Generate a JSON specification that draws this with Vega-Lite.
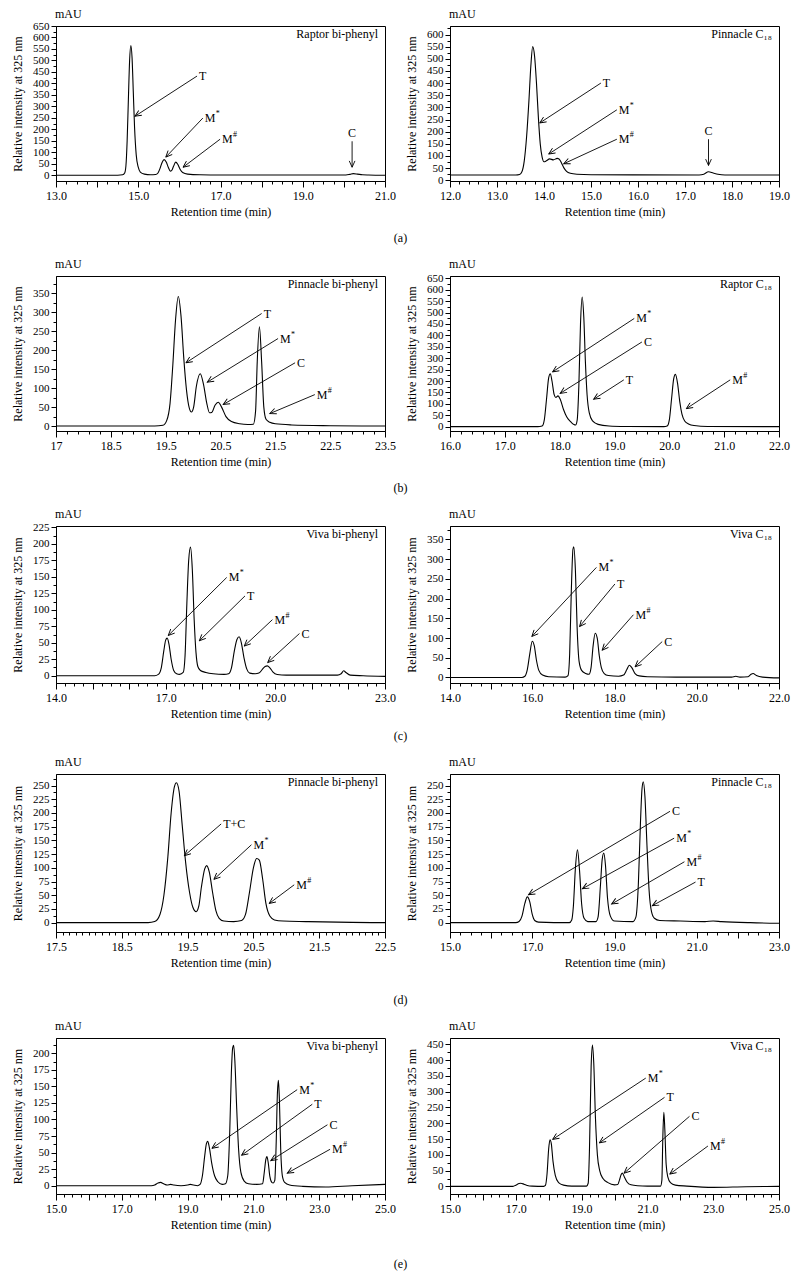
{
"$schema": "https://vega.github.io/schema/vega-lite/v6.json",
"padding": {"left": 11, "top": 7, "right": 3, "bottom": 5},
"spacing": 13,
"config": {
 "font": "Liberation Serif",
 "view": {"stroke": "black", "strokeWidth": 1},
 "axis": {"domainColor": "black", "tickColor": "black", "labelColor": "black", "titleColor": "black", "labelFontSize": 12, "titleFontSize": 12, "titleFontWeight": "normal", "grid": false, "labelFlush": false, "labelOverlap": false, "tickWidth": 1, "domainWidth": 1, "labelFont": "Liberation Serif", "titleFont": "Liberation Serif"},
 "axisX": {"labelPadding": 3, "titlePadding": 5},
 "axisY": {"labelPadding": 2, "titlePadding": 8, "labelFontSize": 11, "format": "d"},
 "title": {"fontSize": 12, "fontWeight": "normal", "color": "black", "font": "Liberation Serif"},
 "text": {"font": "Liberation Serif", "fontSize": 12, "color": "black"}
},
"datasets": {
 "unit": [{"u": "mAU"}],
 "tA1": [{"t":13,"v":0},{"t":14.5,"v":0},{"t":14.62,"v":2},{"t":14.67,"v":10},{"t":14.7,"v":40},{"t":14.73,"v":150},{"t":14.76,"v":330},{"t":14.79,"v":500},{"t":14.82,"v":565},{"t":14.85,"v":510},{"t":14.88,"v":360},{"t":14.91,"v":210},{"t":14.95,"v":90},{"t":15,"v":35},{"t":15.05,"v":14},{"t":15.15,"v":5},{"t":15.3,"v":2},{"t":15.42,"v":3},{"t":15.48,"v":10},{"t":15.53,"v":30},{"t":15.58,"v":56},{"t":15.63,"v":68},{"t":15.68,"v":58},{"t":15.73,"v":35},{"t":15.78,"v":18},{"t":15.81,"v":20},{"t":15.86,"v":40},{"t":15.91,"v":57},{"t":15.96,"v":48},{"t":16.02,"v":25},{"t":16.08,"v":12},{"t":16.2,"v":5},{"t":16.5,"v":2},{"t":17,"v":1},{"t":20.05,"v":1},{"t":20.15,"v":4},{"t":20.23,"v":7},{"t":20.33,"v":5},{"t":20.45,"v":2},{"t":20.6,"v":1},{"t":21,"v":0}],
 "aA1": [{"x1":16.43,"y1":432,"x2":14.92,"y2":257,"lab":"T","sup":""},{"x1":16.57,"y1":249,"x2":15.67,"y2":79,"lab":"M","sup":"*"},{"x1":16.99,"y1":157,"x2":16.09,"y2":35,"lab":"M","sup":"#"},{"x1":20.2,"y1":148,"x2":20.2,"y2":35,"lab":"C","sup":""}],
 "tA2": [{"t":12,"v":22},{"t":13.4,"v":22},{"t":13.48,"v":24},{"t":13.53,"v":35},{"t":13.58,"v":80},{"t":13.63,"v":180},{"t":13.68,"v":330},{"t":13.72,"v":470},{"t":13.76,"v":550},{"t":13.8,"v":510},{"t":13.84,"v":400},{"t":13.88,"v":260},{"t":13.92,"v":150},{"t":13.96,"v":95},{"t":14,"v":76},{"t":14.05,"v":80},{"t":14.12,"v":88},{"t":14.2,"v":84},{"t":14.28,"v":90},{"t":14.32,"v":88},{"t":14.37,"v":72},{"t":14.42,"v":52},{"t":14.48,"v":37},{"t":14.56,"v":29},{"t":14.7,"v":25},{"t":15,"v":23},{"t":17.3,"v":22},{"t":17.4,"v":25},{"t":17.5,"v":35},{"t":17.6,"v":30},{"t":17.7,"v":25},{"t":17.85,"v":22},{"t":19,"v":22}],
 "aA2": [{"x1":15.21,"y1":400,"x2":13.91,"y2":236,"lab":"T","sup":""},{"x1":15.55,"y1":290,"x2":14.1,"y2":108,"lab":"M","sup":"*"},{"x1":15.55,"y1":169,"x2":14.42,"y2":68,"lab":"M","sup":"#"},{"x1":17.5,"y1":169,"x2":17.5,"y2":61,"lab":"C","sup":""}],
 "tB1": [{"t":17.5,"v":0},{"t":19.3,"v":0},{"t":19.45,"v":2},{"t":19.52,"v":15},{"t":19.58,"v":60},{"t":19.63,"v":160},{"t":19.68,"v":280},{"t":19.73,"v":342},{"t":19.78,"v":290},{"t":19.83,"v":180},{"t":19.88,"v":95},{"t":19.93,"v":48},{"t":19.97,"v":37},{"t":20.01,"v":50},{"t":20.06,"v":105},{"t":20.13,"v":138},{"t":20.19,"v":110},{"t":20.25,"v":60},{"t":20.3,"v":35},{"t":20.34,"v":36},{"t":20.4,"v":55},{"t":20.46,"v":63},{"t":20.52,"v":50},{"t":20.6,"v":25},{"t":20.7,"v":12},{"t":20.85,"v":6},{"t":21,"v":4},{"t":21.1,"v":5},{"t":21.14,"v":40},{"t":21.17,"v":170},{"t":21.21,"v":262},{"t":21.25,"v":170},{"t":21.29,"v":50},{"t":21.33,"v":18},{"t":21.4,"v":10},{"t":21.5,"v":6},{"t":21.8,"v":3},{"t":22.5,"v":1},{"t":23.5,"v":0}],
 "aB1": [{"x1":21.25,"y1":297,"x2":19.87,"y2":167,"lab":"T","sup":""},{"x1":21.55,"y1":231,"x2":20.26,"y2":116,"lab":"M","sup":"*"},{"x1":21.86,"y1":167,"x2":20.55,"y2":57,"lab":"C","sup":""},{"x1":22.22,"y1":83,"x2":21.4,"y2":33,"lab":"M","sup":"#"}],
 "tB2": [{"t":16,"v":0},{"t":17.6,"v":0},{"t":17.68,"v":3},{"t":17.72,"v":30},{"t":17.76,"v":120},{"t":17.8,"v":215},{"t":17.83,"v":232},{"t":17.86,"v":200},{"t":17.9,"v":140},{"t":17.93,"v":128},{"t":17.97,"v":135},{"t":18.01,"v":120},{"t":18.07,"v":75},{"t":18.13,"v":42},{"t":18.2,"v":22},{"t":18.26,"v":9},{"t":18.29,"v":7},{"t":18.32,"v":30},{"t":18.35,"v":180},{"t":18.38,"v":450},{"t":18.41,"v":568},{"t":18.44,"v":480},{"t":18.47,"v":280},{"t":18.5,"v":140},{"t":18.54,"v":60},{"t":18.6,"v":25},{"t":18.7,"v":10},{"t":18.9,"v":3},{"t":19.2,"v":1},{"t":19.9,"v":0},{"t":19.96,"v":3},{"t":20,"v":30},{"t":20.04,"v":120},{"t":20.08,"v":210},{"t":20.11,"v":229},{"t":20.15,"v":190},{"t":20.19,"v":110},{"t":20.23,"v":55},{"t":20.28,"v":25},{"t":20.35,"v":12},{"t":20.45,"v":5},{"t":20.7,"v":1},{"t":22,"v":0}],
 "aB2": [{"x1":19.36,"y1":474,"x2":17.87,"y2":240,"lab":"M","sup":"*"},{"x1":19.5,"y1":371,"x2":18.01,"y2":146,"lab":"C","sup":""},{"x1":19.17,"y1":205,"x2":18.62,"y2":120,"lab":"T","sup":""},{"x1":21.11,"y1":205,"x2":20.31,"y2":79,"lab":"M","sup":"#"}],
 "tC1": [{"t":14,"v":0},{"t":16.7,"v":0},{"t":16.8,"v":2},{"t":16.88,"v":12},{"t":16.95,"v":38},{"t":17,"v":54},{"t":17.04,"v":57},{"t":17.09,"v":48},{"t":17.15,"v":25},{"t":17.22,"v":8},{"t":17.3,"v":3},{"t":17.38,"v":2},{"t":17.48,"v":5},{"t":17.53,"v":30},{"t":17.58,"v":110},{"t":17.63,"v":175},{"t":17.68,"v":195},{"t":17.73,"v":160},{"t":17.78,"v":85},{"t":17.83,"v":35},{"t":17.88,"v":14},{"t":17.95,"v":8},{"t":18.1,"v":5},{"t":18.3,"v":3},{"t":18.6,"v":2},{"t":18.72,"v":3},{"t":18.8,"v":12},{"t":18.88,"v":38},{"t":18.95,"v":55},{"t":19.01,"v":59},{"t":19.07,"v":50},{"t":19.14,"v":28},{"t":19.22,"v":10},{"t":19.3,"v":4},{"t":19.45,"v":3},{"t":19.55,"v":4},{"t":19.65,"v":10},{"t":19.72,"v":14},{"t":19.78,"v":15},{"t":19.85,"v":12},{"t":19.93,"v":6},{"t":20.05,"v":2},{"t":20.3,"v":1},{"t":21.7,"v":1},{"t":21.8,"v":3},{"t":21.87,"v":7.5},{"t":21.93,"v":5},{"t":22.05,"v":1},{"t":22.4,"v":0},{"t":23,"v":-1}],
 "aC1": [{"x1":18.67,"y1":149,"x2":17.07,"y2":61,"lab":"M","sup":"*"},{"x1":19.17,"y1":121,"x2":17.92,"y2":53,"lab":"T","sup":""},{"x1":19.92,"y1":85,"x2":19.15,"y2":45,"lab":"M","sup":"#"},{"x1":20.66,"y1":64,"x2":19.79,"y2":20,"lab":"C","sup":""}],
 "tC2": [{"t":14,"v":0},{"t":15.75,"v":0},{"t":15.82,"v":3},{"t":15.88,"v":20},{"t":15.94,"v":60},{"t":16,"v":92},{"t":16.05,"v":80},{"t":16.1,"v":45},{"t":16.16,"v":18},{"t":16.25,"v":6},{"t":16.4,"v":2},{"t":16.8,"v":1},{"t":16.87,"v":5},{"t":16.91,"v":60},{"t":16.95,"v":220},{"t":16.99,"v":325},{"t":17.01,"v":331},{"t":17.05,"v":270},{"t":17.09,"v":130},{"t":17.14,"v":40},{"t":17.2,"v":18},{"t":17.3,"v":10},{"t":17.38,"v":8},{"t":17.43,"v":25},{"t":17.48,"v":80},{"t":17.53,"v":112},{"t":17.58,"v":100},{"t":17.63,"v":55},{"t":17.68,"v":25},{"t":17.75,"v":10},{"t":17.85,"v":5},{"t":18.1,"v":3},{"t":18.22,"v":6},{"t":18.3,"v":20},{"t":18.36,"v":31},{"t":18.42,"v":25},{"t":18.5,"v":10},{"t":18.6,"v":4},{"t":18.8,"v":2},{"t":19.5,"v":1},{"t":20.85,"v":1},{"t":20.95,"v":3},{"t":21.05,"v":1},{"t":21.25,"v":2},{"t":21.32,"v":8},{"t":21.37,"v":10},{"t":21.45,"v":5},{"t":21.6,"v":1},{"t":22,"v":-1}],
 "aC2": [{"x1":17.56,"y1":279,"x2":15.99,"y2":104,"lab":"M","sup":"*"},{"x1":18.01,"y1":237,"x2":17.15,"y2":129,"lab":"T","sup":""},{"x1":18.46,"y1":159,"x2":17.7,"y2":69,"lab":"M","sup":"#"},{"x1":19.16,"y1":91,"x2":18.5,"y2":27,"lab":"C","sup":""}],
 "tD1": [{"t":17.5,"v":0},{"t":18.9,"v":0},{"t":19,"v":2},{"t":19.08,"v":15},{"t":19.14,"v":50},{"t":19.2,"v":120},{"t":19.25,"v":200},{"t":19.3,"v":248},{"t":19.33,"v":255},{"t":19.37,"v":240},{"t":19.42,"v":175},{"t":19.47,"v":110},{"t":19.53,"v":55},{"t":19.58,"v":28},{"t":19.63,"v":20},{"t":19.67,"v":30},{"t":19.71,"v":65},{"t":19.76,"v":98},{"t":19.79,"v":104},{"t":19.83,"v":92},{"t":19.88,"v":55},{"t":19.93,"v":22},{"t":19.98,"v":8},{"t":20.05,"v":3},{"t":20.2,"v":2},{"t":20.32,"v":4},{"t":20.38,"v":15},{"t":20.44,"v":55},{"t":20.5,"v":100},{"t":20.55,"v":117},{"t":20.59,"v":114},{"t":20.64,"v":80},{"t":20.69,"v":35},{"t":20.75,"v":12},{"t":20.82,"v":5},{"t":20.95,"v":3},{"t":21.3,"v":2},{"t":22,"v":0.5},{"t":22.5,"v":0}],
 "aD1": [{"x1":20.01,"y1":180,"x2":19.45,"y2":122,"lab":"T+C","sup":""},{"x1":20.47,"y1":142,"x2":19.9,"y2":79,"lab":"M","sup":"*"},{"x1":21.12,"y1":69,"x2":20.74,"y2":35,"lab":"M","sup":"#"}],
 "tD2": [{"t":15,"v":0},{"t":16.6,"v":0},{"t":16.68,"v":2},{"t":16.75,"v":12},{"t":16.82,"v":35},{"t":16.88,"v":47},{"t":16.94,"v":38},{"t":17,"v":15},{"t":17.06,"v":4},{"t":17.15,"v":1},{"t":17.9,"v":0},{"t":17.96,"v":5},{"t":18,"v":30},{"t":18.05,"v":100},{"t":18.1,"v":133},{"t":18.15,"v":95},{"t":18.2,"v":35},{"t":18.26,"v":8},{"t":18.35,"v":2},{"t":18.55,"v":2},{"t":18.6,"v":10},{"t":18.66,"v":70},{"t":18.7,"v":115},{"t":18.74,"v":127},{"t":18.78,"v":105},{"t":18.83,"v":45},{"t":18.9,"v":12},{"t":19,"v":3},{"t":19.45,"v":2},{"t":19.52,"v":10},{"t":19.58,"v":70},{"t":19.63,"v":180},{"t":19.67,"v":245},{"t":19.7,"v":257},{"t":19.74,"v":230},{"t":19.79,"v":140},{"t":19.84,"v":60},{"t":19.9,"v":20},{"t":19.97,"v":8},{"t":20.1,"v":4},{"t":20.6,"v":3},{"t":21.2,"v":2},{"t":21.4,"v":3},{"t":21.6,"v":2},{"t":22.3,"v":0},{"t":23,"v":-1}],
 "aD2": [{"x1":20.35,"y1":203,"x2":16.91,"y2":51,"lab":"C","sup":""},{"x1":20.45,"y1":154,"x2":18.22,"y2":62,"lab":"M","sup":"*"},{"x1":20.7,"y1":111,"x2":18.93,"y2":34,"lab":"M","sup":"#"},{"x1":20.97,"y1":74,"x2":19.92,"y2":31,"lab":"T","sup":""}],
 "tE1": [{"t":15,"v":0},{"t":17.9,"v":0},{"t":18,"v":1},{"t":18.1,"v":4},{"t":18.18,"v":5},{"t":18.27,"v":3},{"t":18.38,"v":1},{"t":18.48,"v":2},{"t":18.58,"v":1},{"t":18.8,"v":0},{"t":19,"v":1},{"t":19.08,"v":2},{"t":19.18,"v":1},{"t":19.3,"v":0},{"t":19.38,"v":2},{"t":19.45,"v":15},{"t":19.52,"v":45},{"t":19.57,"v":63},{"t":19.61,"v":67},{"t":19.66,"v":58},{"t":19.73,"v":35},{"t":19.82,"v":15},{"t":19.92,"v":6},{"t":20.05,"v":2},{"t":20.15,"v":3},{"t":20.22,"v":15},{"t":20.28,"v":80},{"t":20.33,"v":170},{"t":20.37,"v":208},{"t":20.4,"v":212},{"t":20.44,"v":185},{"t":20.49,"v":120},{"t":20.55,"v":55},{"t":20.62,"v":20},{"t":20.72,"v":7},{"t":20.85,"v":3},{"t":21.1,"v":2},{"t":21.28,"v":3},{"t":21.33,"v":20},{"t":21.38,"v":40},{"t":21.41,"v":44},{"t":21.45,"v":35},{"t":21.5,"v":14},{"t":21.56,"v":5},{"t":21.6,"v":4},{"t":21.65,"v":8},{"t":21.69,"v":60},{"t":21.73,"v":140},{"t":21.76,"v":159},{"t":21.79,"v":130},{"t":21.83,"v":55},{"t":21.88,"v":15},{"t":21.95,"v":5},{"t":22.1,"v":1},{"t":22.5,"v":-1},{"t":23.2,"v":-2},{"t":24,"v":0},{"t":25,"v":2}],
 "aE1": [{"x1":22.33,"y1":145,"x2":19.74,"y2":56.5,"lab":"M","sup":"*"},{"x1":22.79,"y1":123,"x2":20.64,"y2":46,"lab":"T","sup":""},{"x1":23.25,"y1":92,"x2":21.53,"y2":38,"lab":"C","sup":""},{"x1":23.33,"y1":55,"x2":22.03,"y2":19,"lab":"M","sup":"#"}],
 "tE2": [{"t":15,"v":0},{"t":16.9,"v":0},{"t":17,"v":4},{"t":17.1,"v":9},{"t":17.15,"v":10},{"t":17.25,"v":7},{"t":17.35,"v":3},{"t":17.5,"v":1},{"t":17.85,"v":0},{"t":17.9,"v":3},{"t":17.95,"v":40},{"t":18,"v":120},{"t":18.04,"v":148},{"t":18.08,"v":135},{"t":18.13,"v":80},{"t":18.2,"v":35},{"t":18.3,"v":12},{"t":18.45,"v":4},{"t":18.7,"v":1},{"t":19.15,"v":1},{"t":19.2,"v":10},{"t":19.24,"v":120},{"t":19.29,"v":380},{"t":19.33,"v":448},{"t":19.37,"v":390},{"t":19.42,"v":220},{"t":19.48,"v":100},{"t":19.55,"v":50},{"t":19.65,"v":25},{"t":19.8,"v":12},{"t":20,"v":5},{"t":20.1,"v":6},{"t":20.15,"v":20},{"t":20.2,"v":37},{"t":20.24,"v":42},{"t":20.3,"v":30},{"t":20.38,"v":14},{"t":20.5,"v":5},{"t":20.7,"v":2},{"t":21,"v":1},{"t":21.4,"v":1},{"t":21.44,"v":20},{"t":21.47,"v":160},{"t":21.5,"v":235},{"t":21.53,"v":180},{"t":21.57,"v":70},{"t":21.62,"v":30},{"t":21.7,"v":12},{"t":21.85,"v":4},{"t":22.2,"v":1},{"t":23,"v":-3},{"t":24,"v":-1},{"t":25,"v":0}],
 "aE2": [{"x1":20.95,"y1":343,"x2":18.12,"y2":149,"lab":"M","sup":"*"},{"x1":21.52,"y1":282,"x2":19.54,"y2":138,"lab":"T","sup":""},{"x1":22.28,"y1":222,"x2":20.29,"y2":42,"lab":"C","sup":""},{"x1":22.84,"y1":128,"x2":21.68,"y2":39,"lab":"M","sup":"#"}]
},
"vconcat": [
{
 "hconcat": [
 {
  "width": 329, "height": 155,
  "layer": [
   {"data": {"name": "tA1"}, "mark": {"type": "line", "color": "black", "strokeWidth": 1.1, "interpolate": "monotone"},
    "encoding": {
     "x": {"field": "t", "type": "quantitative", "scale": {"domain": [13, 21], "zero": false, "nice": false}, "axis": {"title": "Retention time (min)", "tickCount": 500, "labelOverlap": false, "values": [13,13.25,13.5,13.75,14,14.25,14.5,14.75,15,15.25,15.5,15.75,16,16.25,16.5,16.75,17,17.25,17.5,17.75,18,18.25,18.5,18.75,19,19.25,19.5,19.75,20,20.25,20.5,20.75,21], "format": ".1f", "labelExpr": "abs((datum.value-13)/2-round((datum.value-13)/2))<0.01 ? datum.label : ''", "tickSize": {"condition": {"test": "abs(datum.value-round(datum.value))<0.01", "value": 6}, "value": 3}}},
     "y": {"field": "v", "type": "quantitative", "scale": {"domain": [-25, 650], "zero": false, "nice": false}, "axis": {"title": "Relative intensity at 325 nm", "tickCount": 500, "labelOverlap": false, "format": "d", "values": [0,25,50,75,100,125,150,175,200,225,250,275,300,325,350,375,400,425,450,475,500,525,550,575,600,625,650], "labelExpr": "datum.value % 50 === 0 ? datum.label : ''", "tickSize": {"condition": {"test": "datum.value % 50 === 0", "value": 5}, "value": 3}}}
    }},
   {"data": {"name": "aA1"}, "mark": {"type": "rule", "color": "black", "strokeWidth": 0.9},
    "encoding": {"x": {"field": "x1", "type": "quantitative"}, "y": {"field": "y1", "type": "quantitative"}, "x2": {"field": "x2"}, "y2": {"field": "y2"}}},
   {"data": {"name": "aA1"}, "transform": [{"calculate": "atan2(-(datum.y2-datum.y1)*0.2296, (datum.x2-datum.x1)*41.125)*180/PI", "as": "ang"}],
    "mark": {"type": "point", "shape": "M -1 -0.45 L 0 0 L -1 0.45", "filled": false, "stroke": "black", "strokeWidth": 0.9, "size": 160, "opacity": 1},
    "encoding": {"x": {"field": "x2", "type": "quantitative"}, "y": {"field": "y2", "type": "quantitative"}, "angle": {"field": "ang", "type": "quantitative", "scale": null}}},
   {"data": {"name": "aA1"}, "transform": [{"filter": "datum.x1 !== datum.x2"}], "mark": {"type": "text", "align": "left", "baseline": "middle", "dx": 2},
    "encoding": {"x": {"field": "x1", "type": "quantitative"}, "y": {"field": "y1", "type": "quantitative"}, "text": {"field": "lab"}}},
   {"data": {"name": "aA1"}, "transform": [{"filter": "datum.x1 !== datum.x2 && datum.sup !== ''"}], "mark": {"type": "text", "align": "left", "baseline": "middle", "dx": 13, "dy": -4, "fontSize": 8},
    "encoding": {"x": {"field": "x1", "type": "quantitative"}, "y": {"field": "y1", "type": "quantitative"}, "text": {"field": "sup"}}},
   {"data": {"name": "aA1"}, "transform": [{"filter": "datum.x1 === datum.x2"}], "mark": {"type": "text", "align": "center", "baseline": "bottom", "dy": -1},
    "encoding": {"x": {"field": "x1", "type": "quantitative"}, "y": {"field": "y1", "type": "quantitative"}, "text": {"field": "lab"}}},
   {"data": {"values": [{"name": "Raptor bi-phenyl"}]}, "mark": {"type": "text", "align": "right", "baseline": "top", "dx": -7, "dy": 3},
    "encoding": {"x": {"datum": 21, "type": "quantitative"}, "y": {"datum": 650, "type": "quantitative"}, "text": {"field": "name"}}},
   {"data": {"name": "unit"}, "mark": {"type": "text", "align": "left", "baseline": "middle", "dx": -1, "dy": -12},
    "encoding": {"x": {"datum": 13, "type": "quantitative"}, "y": {"datum": 650, "type": "quantitative"}, "text": {"field": "u"}}}
  ]
 },
 {
  "width": 329, "height": 155,
  "layer": [
   {"data": {"name": "tA2"}, "mark": {"type": "line", "color": "black", "strokeWidth": 1.1, "interpolate": "monotone"},
    "encoding": {
     "x": {"field": "t", "type": "quantitative", "scale": {"domain": [12, 19], "zero": false, "nice": false}, "axis": {"title": "Retention time (min)", "tickCount": 500, "labelOverlap": false, "values": [12,12.2,12.4,12.6,12.8,13,13.2,13.4,13.6,13.8,14,14.2,14.4,14.6,14.8,15,15.2,15.4,15.6,15.8,16,16.2,16.4,16.6,16.8,17,17.2,17.4,17.6,17.8,18,18.2,18.4,18.6,18.8,19], "format": ".1f", "labelExpr": "abs(datum.value-round(datum.value))<0.01 ? datum.label : ''", "tickSize": {"condition": {"test": "abs(datum.value-round(datum.value))<0.01", "value": 6}, "value": 3}}},
     "y": {"field": "v", "type": "quantitative", "scale": {"domain": [-3, 635], "zero": false, "nice": false}, "axis": {"title": "Relative intensity at 325 nm", "tickCount": 500, "labelOverlap": false, "format": "d", "values": [0,25,50,75,100,125,150,175,200,225,250,275,300,325,350,375,400,425,450,475,500,525,550,575,600,625], "labelExpr": "datum.value % 50 === 0 ? datum.label : ''", "tickSize": {"condition": {"test": "datum.value % 50 === 0", "value": 5}, "value": 3}}}
    }},
   {"data": {"name": "aA2"}, "mark": {"type": "rule", "color": "black", "strokeWidth": 0.9},
    "encoding": {"x": {"field": "x1", "type": "quantitative"}, "y": {"field": "y1", "type": "quantitative"}, "x2": {"field": "x2"}, "y2": {"field": "y2"}}},
   {"data": {"name": "aA2"}, "transform": [{"calculate": "atan2(-(datum.y2-datum.y1)*0.2429, (datum.x2-datum.x1)*47)*180/PI", "as": "ang"}],
    "mark": {"type": "point", "shape": "M -1 -0.45 L 0 0 L -1 0.45", "filled": false, "stroke": "black", "strokeWidth": 0.9, "size": 160, "opacity": 1},
    "encoding": {"x": {"field": "x2", "type": "quantitative"}, "y": {"field": "y2", "type": "quantitative"}, "angle": {"field": "ang", "type": "quantitative", "scale": null}}},
   {"data": {"name": "aA2"}, "transform": [{"filter": "datum.x1 !== datum.x2"}], "mark": {"type": "text", "align": "left", "baseline": "middle", "dx": 2},
    "encoding": {"x": {"field": "x1", "type": "quantitative"}, "y": {"field": "y1", "type": "quantitative"}, "text": {"field": "lab"}}},
   {"data": {"name": "aA2"}, "transform": [{"filter": "datum.x1 !== datum.x2 && datum.sup !== ''"}], "mark": {"type": "text", "align": "left", "baseline": "middle", "dx": 13, "dy": -4, "fontSize": 8},
    "encoding": {"x": {"field": "x1", "type": "quantitative"}, "y": {"field": "y1", "type": "quantitative"}, "text": {"field": "sup"}}},
   {"data": {"name": "aA2"}, "transform": [{"filter": "datum.x1 === datum.x2"}], "mark": {"type": "text", "align": "center", "baseline": "bottom", "dy": -1},
    "encoding": {"x": {"field": "x1", "type": "quantitative"}, "y": {"field": "y1", "type": "quantitative"}, "text": {"field": "lab"}}},
   {"data": {"values": [{"name": "Pinnacle C₁₈"}]}, "mark": {"type": "text", "align": "right", "baseline": "top", "dx": -7, "dy": 3},
    "encoding": {"x": {"datum": 19, "type": "quantitative"}, "y": {"datum": 635, "type": "quantitative"}, "text": {"field": "name"}}},
   {"data": {"name": "unit"}, "mark": {"type": "text", "align": "left", "baseline": "middle", "dx": -1, "dy": -12},
    "encoding": {"x": {"datum": 12, "type": "quantitative"}, "y": {"datum": 635, "type": "quantitative"}, "text": {"field": "u"}}}
  ]
 }
 ],
 "spacing": 65, "bounds": "flush",
 "title": {"text": "(a)", "orient": "bottom", "anchor": "middle", "offset": 15}
},
{
 "hconcat": [
 {
  "width": 329, "height": 155,
  "layer": [
   {"data": {"name": "tB1"}, "mark": {"type": "line", "color": "black", "strokeWidth": 1.1, "interpolate": "monotone"},
    "encoding": {
     "x": {"field": "t", "type": "quantitative", "scale": {"domain": [17.5, 23.5], "zero": false, "nice": false}, "axis": {"title": "Retention time (min)", "tickCount": 500, "labelOverlap": false, "values": [17.5,17.7,17.9,18.1,18.3,18.5,18.7,18.9,19.1,19.3,19.5,19.7,19.9,20.1,20.3,20.5,20.7,20.9,21.1,21.3,21.5,21.7,21.9,22.1,22.3,22.5,22.7,22.9,23.1,23.3,23.5], "format": ".1f", "labelExpr": "datum.value == 17.5 ? '17' : (abs(datum.value-0.5-round(datum.value-0.5))<0.01 ? datum.label : '')", "tickSize": {"condition": {"test": "abs(datum.value-0.5-round(datum.value-0.5))<0.01", "value": 6}, "value": 3}}},
     "y": {"field": "v", "type": "quantitative", "scale": {"domain": [-13, 396], "zero": false, "nice": false}, "axis": {"title": "Relative intensity at 325 nm", "tickCount": 500, "labelOverlap": false, "format": "d", "values": [0,25,50,75,100,125,150,175,200,225,250,275,300,325,350,375], "labelExpr": "datum.value % 50 === 0 ? datum.label : ''", "tickSize": {"condition": {"test": "datum.value % 50 === 0", "value": 5}, "value": 3}}}
    }},
   {"data": {"name": "aB1"}, "mark": {"type": "rule", "color": "black", "strokeWidth": 0.9},
    "encoding": {"x": {"field": "x1", "type": "quantitative"}, "y": {"field": "y1", "type": "quantitative"}, "x2": {"field": "x2"}, "y2": {"field": "y2"}}},
   {"data": {"name": "aB1"}, "transform": [{"calculate": "atan2(-(datum.y2-datum.y1)*0.379, (datum.x2-datum.x1)*54.83)*180/PI", "as": "ang"}],
    "mark": {"type": "point", "shape": "M -1 -0.45 L 0 0 L -1 0.45", "filled": false, "stroke": "black", "strokeWidth": 0.9, "size": 160, "opacity": 1},
    "encoding": {"x": {"field": "x2", "type": "quantitative"}, "y": {"field": "y2", "type": "quantitative"}, "angle": {"field": "ang", "type": "quantitative", "scale": null}}},
   {"data": {"name": "aB1"}, "mark": {"type": "text", "align": "left", "baseline": "middle", "dx": 2},
    "encoding": {"x": {"field": "x1", "type": "quantitative"}, "y": {"field": "y1", "type": "quantitative"}, "text": {"field": "lab"}}},
   {"data": {"name": "aB1"}, "transform": [{"filter": "datum.sup !== ''"}], "mark": {"type": "text", "align": "left", "baseline": "middle", "dx": 13, "dy": -4, "fontSize": 8},
    "encoding": {"x": {"field": "x1", "type": "quantitative"}, "y": {"field": "y1", "type": "quantitative"}, "text": {"field": "sup"}}},
   {"data": {"values": [{"name": "Pinnacle bi-phenyl"}]}, "mark": {"type": "text", "align": "right", "baseline": "top", "dx": -7, "dy": 3},
    "encoding": {"x": {"datum": 23.5, "type": "quantitative"}, "y": {"datum": 396, "type": "quantitative"}, "text": {"field": "name"}}},
   {"data": {"name": "unit"}, "mark": {"type": "text", "align": "left", "baseline": "middle", "dx": -1, "dy": -12},
    "encoding": {"x": {"datum": 17.5, "type": "quantitative"}, "y": {"datum": 396, "type": "quantitative"}, "text": {"field": "u"}}}
  ]
 },
 {
  "width": 329, "height": 155,
  "layer": [
   {"data": {"name": "tB2"}, "mark": {"type": "line", "color": "black", "strokeWidth": 1.1, "interpolate": "monotone"},
    "encoding": {
     "x": {"field": "t", "type": "quantitative", "scale": {"domain": [16, 22], "zero": false, "nice": false}, "axis": {"title": "Retention time (min)", "tickCount": 500, "labelOverlap": false, "values": [16,16.2,16.4,16.6,16.8,17,17.2,17.4,17.6,17.8,18,18.2,18.4,18.6,18.8,19,19.2,19.4,19.6,19.8,20,20.2,20.4,20.6,20.8,21,21.2,21.4,21.6,21.8,22], "format": ".1f", "labelExpr": "abs(datum.value-round(datum.value))<0.01 ? datum.label : ''", "tickSize": {"condition": {"test": "abs(datum.value-round(datum.value))<0.01", "value": 6}, "value": 3}}},
     "y": {"field": "v", "type": "quantitative", "scale": {"domain": [-19, 660], "zero": false, "nice": false}, "axis": {"title": "Relative intensity at 325 nm", "tickCount": 500, "labelOverlap": false, "format": "d", "values": [0,25,50,75,100,125,150,175,200,225,250,275,300,325,350,375,400,425,450,475,500,525,550,575,600,625,650], "labelExpr": "datum.value % 50 === 0 ? datum.label : ''", "tickSize": {"condition": {"test": "datum.value % 50 === 0", "value": 5}, "value": 3}}}
    }},
   {"data": {"name": "aB2"}, "mark": {"type": "rule", "color": "black", "strokeWidth": 0.9},
    "encoding": {"x": {"field": "x1", "type": "quantitative"}, "y": {"field": "y1", "type": "quantitative"}, "x2": {"field": "x2"}, "y2": {"field": "y2"}}},
   {"data": {"name": "aB2"}, "transform": [{"calculate": "atan2(-(datum.y2-datum.y1)*0.2283, (datum.x2-datum.x1)*54.83)*180/PI", "as": "ang"}],
    "mark": {"type": "point", "shape": "M -1 -0.45 L 0 0 L -1 0.45", "filled": false, "stroke": "black", "strokeWidth": 0.9, "size": 160, "opacity": 1},
    "encoding": {"x": {"field": "x2", "type": "quantitative"}, "y": {"field": "y2", "type": "quantitative"}, "angle": {"field": "ang", "type": "quantitative", "scale": null}}},
   {"data": {"name": "aB2"}, "mark": {"type": "text", "align": "left", "baseline": "middle", "dx": 2},
    "encoding": {"x": {"field": "x1", "type": "quantitative"}, "y": {"field": "y1", "type": "quantitative"}, "text": {"field": "lab"}}},
   {"data": {"name": "aB2"}, "transform": [{"filter": "datum.sup !== ''"}], "mark": {"type": "text", "align": "left", "baseline": "middle", "dx": 13, "dy": -4, "fontSize": 8},
    "encoding": {"x": {"field": "x1", "type": "quantitative"}, "y": {"field": "y1", "type": "quantitative"}, "text": {"field": "sup"}}},
   {"data": {"values": [{"name": "Raptor C₁₈"}]}, "mark": {"type": "text", "align": "right", "baseline": "top", "dx": -7, "dy": 3},
    "encoding": {"x": {"datum": 22, "type": "quantitative"}, "y": {"datum": 660, "type": "quantitative"}, "text": {"field": "name"}}},
   {"data": {"name": "unit"}, "mark": {"type": "text", "align": "left", "baseline": "middle", "dx": -1, "dy": -12},
    "encoding": {"x": {"datum": 16, "type": "quantitative"}, "y": {"datum": 660, "type": "quantitative"}, "text": {"field": "u"}}}
  ]
 }
 ],
 "spacing": 65, "bounds": "flush",
 "title": {"text": "(b)", "orient": "bottom", "anchor": "middle", "offset": 15}
},
{
 "hconcat": [
 {
  "width": 329, "height": 157,
  "layer": [
   {"data": {"name": "tC1"}, "mark": {"type": "line", "color": "black", "strokeWidth": 1.1, "interpolate": "monotone"},
    "encoding": {
     "x": {"field": "t", "type": "quantitative", "scale": {"domain": [14, 23], "zero": false, "nice": false}, "axis": {"title": "Retention time (min)", "tickCount": 500, "labelOverlap": false, "values": [14,14.25,14.5,14.75,15,15.25,15.5,15.75,16,16.25,16.5,16.75,17,17.25,17.5,17.75,18,18.25,18.5,18.75,19,19.25,19.5,19.75,20,20.25,20.5,20.75,21,21.25,21.5,21.75,22,22.25,22.5,22.75,23], "format": ".1f", "labelExpr": "abs((datum.value-14)/3-round((datum.value-14)/3))<0.01 ? datum.label : ''", "tickSize": {"condition": {"test": "abs(datum.value-round(datum.value))<0.01", "value": 6}, "value": 3}}},
     "y": {"field": "v", "type": "quantitative", "scale": {"domain": [-11, 227], "zero": false, "nice": false}, "axis": {"title": "Relative intensity at 325 nm", "tickCount": 500, "labelOverlap": false, "format": "d", "values": [0,12.5,25,37.5,50,62.5,75,87.5,100,112.5,125,137.5,150,162.5,175,187.5,200,212.5,225], "labelExpr": "datum.value % 25 === 0 ? datum.label : ''", "tickSize": {"condition": {"test": "datum.value % 25 === 0", "value": 5}, "value": 3}}}
    }},
   {"data": {"name": "aC1"}, "mark": {"type": "rule", "color": "black", "strokeWidth": 0.9},
    "encoding": {"x": {"field": "x1", "type": "quantitative"}, "y": {"field": "y1", "type": "quantitative"}, "x2": {"field": "x2"}, "y2": {"field": "y2"}}},
   {"data": {"name": "aC1"}, "transform": [{"calculate": "atan2(-(datum.y2-datum.y1)*0.6597, (datum.x2-datum.x1)*36.56)*180/PI", "as": "ang"}],
    "mark": {"type": "point", "shape": "M -1 -0.45 L 0 0 L -1 0.45", "filled": false, "stroke": "black", "strokeWidth": 0.9, "size": 160, "opacity": 1},
    "encoding": {"x": {"field": "x2", "type": "quantitative"}, "y": {"field": "y2", "type": "quantitative"}, "angle": {"field": "ang", "type": "quantitative", "scale": null}}},
   {"data": {"name": "aC1"}, "mark": {"type": "text", "align": "left", "baseline": "middle", "dx": 2},
    "encoding": {"x": {"field": "x1", "type": "quantitative"}, "y": {"field": "y1", "type": "quantitative"}, "text": {"field": "lab"}}},
   {"data": {"name": "aC1"}, "transform": [{"filter": "datum.sup !== ''"}], "mark": {"type": "text", "align": "left", "baseline": "middle", "dx": 13, "dy": -4, "fontSize": 8},
    "encoding": {"x": {"field": "x1", "type": "quantitative"}, "y": {"field": "y1", "type": "quantitative"}, "text": {"field": "sup"}}},
   {"data": {"values": [{"name": "Viva bi-phenyl"}]}, "mark": {"type": "text", "align": "right", "baseline": "top", "dx": -7, "dy": 3},
    "encoding": {"x": {"datum": 23, "type": "quantitative"}, "y": {"datum": 227, "type": "quantitative"}, "text": {"field": "name"}}},
   {"data": {"name": "unit"}, "mark": {"type": "text", "align": "left", "baseline": "middle", "dx": -1, "dy": -12},
    "encoding": {"x": {"datum": 14, "type": "quantitative"}, "y": {"datum": 227, "type": "quantitative"}, "text": {"field": "u"}}}
  ]
 },
 {
  "width": 329, "height": 157,
  "layer": [
   {"data": {"name": "tC2"}, "mark": {"type": "line", "color": "black", "strokeWidth": 1.1, "interpolate": "monotone"},
    "encoding": {
     "x": {"field": "t", "type": "quantitative", "scale": {"domain": [14, 22], "zero": false, "nice": false}, "axis": {"title": "Retention time (min)", "tickCount": 500, "labelOverlap": false, "values": [14,14.25,14.5,14.75,15,15.25,15.5,15.75,16,16.25,16.5,16.75,17,17.25,17.5,17.75,18,18.25,18.5,18.75,19,19.25,19.5,19.75,20,20.25,20.5,20.75,21,21.25,21.5,21.75,22], "format": ".1f", "labelExpr": "abs((datum.value-14)/2-round((datum.value-14)/2))<0.01 ? datum.label : ''", "tickSize": {"condition": {"test": "abs(datum.value-round(datum.value))<0.01", "value": 6}, "value": 3}}},
     "y": {"field": "v", "type": "quantitative", "scale": {"domain": [-14, 384], "zero": false, "nice": false}, "axis": {"title": "Relative intensity at 325 nm", "tickCount": 500, "labelOverlap": false, "format": "d", "values": [0,25,50,75,100,125,150,175,200,225,250,275,300,325,350,375], "labelExpr": "datum.value % 50 === 0 ? datum.label : ''", "tickSize": {"condition": {"test": "datum.value % 50 === 0", "value": 5}, "value": 3}}}
    }},
   {"data": {"name": "aC2"}, "mark": {"type": "rule", "color": "black", "strokeWidth": 0.9},
    "encoding": {"x": {"field": "x1", "type": "quantitative"}, "y": {"field": "y1", "type": "quantitative"}, "x2": {"field": "x2"}, "y2": {"field": "y2"}}},
   {"data": {"name": "aC2"}, "transform": [{"calculate": "atan2(-(datum.y2-datum.y1)*0.3945, (datum.x2-datum.x1)*41.125)*180/PI", "as": "ang"}],
    "mark": {"type": "point", "shape": "M -1 -0.45 L 0 0 L -1 0.45", "filled": false, "stroke": "black", "strokeWidth": 0.9, "size": 160, "opacity": 1},
    "encoding": {"x": {"field": "x2", "type": "quantitative"}, "y": {"field": "y2", "type": "quantitative"}, "angle": {"field": "ang", "type": "quantitative", "scale": null}}},
   {"data": {"name": "aC2"}, "mark": {"type": "text", "align": "left", "baseline": "middle", "dx": 2},
    "encoding": {"x": {"field": "x1", "type": "quantitative"}, "y": {"field": "y1", "type": "quantitative"}, "text": {"field": "lab"}}},
   {"data": {"name": "aC2"}, "transform": [{"filter": "datum.sup !== ''"}], "mark": {"type": "text", "align": "left", "baseline": "middle", "dx": 13, "dy": -4, "fontSize": 8},
    "encoding": {"x": {"field": "x1", "type": "quantitative"}, "y": {"field": "y1", "type": "quantitative"}, "text": {"field": "sup"}}},
   {"data": {"values": [{"name": "Viva C₁₈"}]}, "mark": {"type": "text", "align": "right", "baseline": "top", "dx": -7, "dy": 3},
    "encoding": {"x": {"datum": 22, "type": "quantitative"}, "y": {"datum": 384, "type": "quantitative"}, "text": {"field": "name"}}},
   {"data": {"name": "unit"}, "mark": {"type": "text", "align": "left", "baseline": "middle", "dx": -1, "dy": -12},
    "encoding": {"x": {"datum": 14, "type": "quantitative"}, "y": {"datum": 384, "type": "quantitative"}, "text": {"field": "u"}}}
  ]
 }
 ],
 "spacing": 65, "bounds": "flush",
 "title": {"text": "(c)", "orient": "bottom", "anchor": "middle", "offset": 11}
},
{
 "hconcat": [
 {
  "width": 329, "height": 158,
  "layer": [
   {"data": {"name": "tD1"}, "mark": {"type": "line", "color": "black", "strokeWidth": 1.1, "interpolate": "monotone"},
    "encoding": {
     "x": {"field": "t", "type": "quantitative", "scale": {"domain": [17.5, 22.5], "zero": false, "nice": false}, "axis": {"title": "Retention time (min)", "tickCount": 500, "labelOverlap": false, "values": [17.5,17.6,17.7,17.8,17.9,18,18.1,18.2,18.3,18.4,18.5,18.6,18.7,18.8,18.9,19,19.1,19.2,19.3,19.4,19.5,19.6,19.7,19.8,19.9,20,20.1,20.2,20.3,20.4,20.5,20.6,20.7,20.8,20.9,21,21.1,21.2,21.3,21.4,21.5,21.6,21.7,21.8,21.9,22,22.1,22.2,22.3,22.4,22.5], "format": ".1f", "labelExpr": "abs(datum.value-0.5-round(datum.value-0.5))<0.01 ? datum.label : ''", "tickSize": {"condition": {"test": "abs(datum.value-0.5-round(datum.value-0.5))<0.01", "value": 6}, "value": 3}}},
     "y": {"field": "v", "type": "quantitative", "scale": {"domain": [-17, 271], "zero": false, "nice": false}, "axis": {"title": "Relative intensity at 325 nm", "tickCount": 500, "labelOverlap": false, "format": "d", "values": [0,12.5,25,37.5,50,62.5,75,87.5,100,112.5,125,137.5,150,162.5,175,187.5,200,212.5,225,237.5,250,262.5], "labelExpr": "datum.value % 25 === 0 ? datum.label : ''", "tickSize": {"condition": {"test": "datum.value % 25 === 0", "value": 5}, "value": 3}}}
    }},
   {"data": {"name": "aD1"}, "mark": {"type": "rule", "color": "black", "strokeWidth": 0.9},
    "encoding": {"x": {"field": "x1", "type": "quantitative"}, "y": {"field": "y1", "type": "quantitative"}, "x2": {"field": "x2"}, "y2": {"field": "y2"}}},
   {"data": {"name": "aD1"}, "transform": [{"calculate": "atan2(-(datum.y2-datum.y1)*0.5486, (datum.x2-datum.x1)*65.8)*180/PI", "as": "ang"}],
    "mark": {"type": "point", "shape": "M -1 -0.45 L 0 0 L -1 0.45", "filled": false, "stroke": "black", "strokeWidth": 0.9, "size": 160, "opacity": 1},
    "encoding": {"x": {"field": "x2", "type": "quantitative"}, "y": {"field": "y2", "type": "quantitative"}, "angle": {"field": "ang", "type": "quantitative", "scale": null}}},
   {"data": {"name": "aD1"}, "mark": {"type": "text", "align": "left", "baseline": "middle", "dx": 2},
    "encoding": {"x": {"field": "x1", "type": "quantitative"}, "y": {"field": "y1", "type": "quantitative"}, "text": {"field": "lab"}}},
   {"data": {"name": "aD1"}, "transform": [{"filter": "datum.sup !== ''"}], "mark": {"type": "text", "align": "left", "baseline": "middle", "dx": 13, "dy": -4, "fontSize": 8},
    "encoding": {"x": {"field": "x1", "type": "quantitative"}, "y": {"field": "y1", "type": "quantitative"}, "text": {"field": "sup"}}},
   {"data": {"values": [{"name": "Pinnacle bi-phenyl"}]}, "mark": {"type": "text", "align": "right", "baseline": "top", "dx": -7, "dy": 3},
    "encoding": {"x": {"datum": 22.5, "type": "quantitative"}, "y": {"datum": 271, "type": "quantitative"}, "text": {"field": "name"}}},
   {"data": {"name": "unit"}, "mark": {"type": "text", "align": "left", "baseline": "middle", "dx": -1, "dy": -12},
    "encoding": {"x": {"datum": 17.5, "type": "quantitative"}, "y": {"datum": 271, "type": "quantitative"}, "text": {"field": "u"}}}
  ]
 },
 {
  "width": 329, "height": 158,
  "layer": [
   {"data": {"name": "tD2"}, "mark": {"type": "line", "color": "black", "strokeWidth": 1.1, "interpolate": "monotone"},
    "encoding": {
     "x": {"field": "t", "type": "quantitative", "scale": {"domain": [15, 23], "zero": false, "nice": false}, "axis": {"title": "Retention time (min)", "tickCount": 500, "labelOverlap": false, "values": [15,15.25,15.5,15.75,16,16.25,16.5,16.75,17,17.25,17.5,17.75,18,18.25,18.5,18.75,19,19.25,19.5,19.75,20,20.25,20.5,20.75,21,21.25,21.5,21.75,22,22.25,22.5,22.75,23], "format": ".1f", "labelExpr": "abs((datum.value-15)/2-round((datum.value-15)/2))<0.01 ? datum.label : ''", "tickSize": {"condition": {"test": "abs(datum.value-round(datum.value))<0.01", "value": 6}, "value": 3}}},
     "y": {"field": "v", "type": "quantitative", "scale": {"domain": [-17, 271], "zero": false, "nice": false}, "axis": {"title": "Relative intensity at 325 nm", "tickCount": 500, "labelOverlap": false, "format": "d", "values": [0,12.5,25,37.5,50,62.5,75,87.5,100,112.5,125,137.5,150,162.5,175,187.5,200,212.5,225,237.5,250,262.5], "labelExpr": "datum.value % 25 === 0 ? datum.label : ''", "tickSize": {"condition": {"test": "datum.value % 25 === 0", "value": 5}, "value": 3}}}
    }},
   {"data": {"name": "aD2"}, "mark": {"type": "rule", "color": "black", "strokeWidth": 0.9},
    "encoding": {"x": {"field": "x1", "type": "quantitative"}, "y": {"field": "y1", "type": "quantitative"}, "x2": {"field": "x2"}, "y2": {"field": "y2"}}},
   {"data": {"name": "aD2"}, "transform": [{"calculate": "atan2(-(datum.y2-datum.y1)*0.5486, (datum.x2-datum.x1)*41.125)*180/PI", "as": "ang"}],
    "mark": {"type": "point", "shape": "M -1 -0.45 L 0 0 L -1 0.45", "filled": false, "stroke": "black", "strokeWidth": 0.9, "size": 160, "opacity": 1},
    "encoding": {"x": {"field": "x2", "type": "quantitative"}, "y": {"field": "y2", "type": "quantitative"}, "angle": {"field": "ang", "type": "quantitative", "scale": null}}},
   {"data": {"name": "aD2"}, "mark": {"type": "text", "align": "left", "baseline": "middle", "dx": 2},
    "encoding": {"x": {"field": "x1", "type": "quantitative"}, "y": {"field": "y1", "type": "quantitative"}, "text": {"field": "lab"}}},
   {"data": {"name": "aD2"}, "transform": [{"filter": "datum.sup !== ''"}], "mark": {"type": "text", "align": "left", "baseline": "middle", "dx": 13, "dy": -4, "fontSize": 8},
    "encoding": {"x": {"field": "x1", "type": "quantitative"}, "y": {"field": "y1", "type": "quantitative"}, "text": {"field": "sup"}}},
   {"data": {"values": [{"name": "Pinnacle C₁₈"}]}, "mark": {"type": "text", "align": "right", "baseline": "top", "dx": -7, "dy": 3},
    "encoding": {"x": {"datum": 23, "type": "quantitative"}, "y": {"datum": 271, "type": "quantitative"}, "text": {"field": "name"}}},
   {"data": {"name": "unit"}, "mark": {"type": "text", "align": "left", "baseline": "middle", "dx": -1, "dy": -12},
    "encoding": {"x": {"datum": 15, "type": "quantitative"}, "y": {"datum": 271, "type": "quantitative"}, "text": {"field": "u"}}}
  ]
 }
 ],
 "spacing": 65, "bounds": "flush",
 "title": {"text": "(d)", "orient": "bottom", "anchor": "middle", "offset": 26}
},
{
 "hconcat": [
 {
  "width": 329, "height": 156,
  "layer": [
   {"data": {"name": "tE1"}, "mark": {"type": "line", "color": "black", "strokeWidth": 1.1, "interpolate": "monotone"},
    "encoding": {
     "x": {"field": "t", "type": "quantitative", "scale": {"domain": [15, 25], "zero": false, "nice": false}, "axis": {"title": "Retention time (min)", "tickCount": 500, "labelOverlap": false, "values": [15,15.25,15.5,15.75,16,16.25,16.5,16.75,17,17.25,17.5,17.75,18,18.25,18.5,18.75,19,19.25,19.5,19.75,20,20.25,20.5,20.75,21,21.25,21.5,21.75,22,22.25,22.5,22.75,23,23.25,23.5,23.75,24,24.25,24.5,24.75,25], "format": ".1f", "labelExpr": "abs((datum.value-15)/2-round((datum.value-15)/2))<0.01 ? datum.label : ''", "tickSize": {"condition": {"test": "abs(datum.value-round(datum.value))<0.01", "value": 6}, "value": 3}}},
     "y": {"field": "v", "type": "quantitative", "scale": {"domain": [-12.5, 223], "zero": false, "nice": false}, "axis": {"title": "Relative intensity at 325 nm", "tickCount": 500, "labelOverlap": false, "format": "d", "values": [0,12.5,25,37.5,50,62.5,75,87.5,100,112.5,125,137.5,150,162.5,175,187.5,200,212.5], "labelExpr": "datum.value % 25 === 0 ? datum.label : ''", "tickSize": {"condition": {"test": "datum.value % 25 === 0", "value": 5}, "value": 3}}}
    }},
   {"data": {"name": "aE1"}, "mark": {"type": "rule", "color": "black", "strokeWidth": 0.9},
    "encoding": {"x": {"field": "x1", "type": "quantitative"}, "y": {"field": "y1", "type": "quantitative"}, "x2": {"field": "x2"}, "y2": {"field": "y2"}}},
   {"data": {"name": "aE1"}, "transform": [{"calculate": "atan2(-(datum.y2-datum.y1)*0.6624, (datum.x2-datum.x1)*32.9)*180/PI", "as": "ang"}],
    "mark": {"type": "point", "shape": "M -1 -0.45 L 0 0 L -1 0.45", "filled": false, "stroke": "black", "strokeWidth": 0.9, "size": 160, "opacity": 1},
    "encoding": {"x": {"field": "x2", "type": "quantitative"}, "y": {"field": "y2", "type": "quantitative"}, "angle": {"field": "ang", "type": "quantitative", "scale": null}}},
   {"data": {"name": "aE1"}, "mark": {"type": "text", "align": "left", "baseline": "middle", "dx": 2},
    "encoding": {"x": {"field": "x1", "type": "quantitative"}, "y": {"field": "y1", "type": "quantitative"}, "text": {"field": "lab"}}},
   {"data": {"name": "aE1"}, "transform": [{"filter": "datum.sup !== ''"}], "mark": {"type": "text", "align": "left", "baseline": "middle", "dx": 13, "dy": -4, "fontSize": 8},
    "encoding": {"x": {"field": "x1", "type": "quantitative"}, "y": {"field": "y1", "type": "quantitative"}, "text": {"field": "sup"}}},
   {"data": {"values": [{"name": "Viva bi-phenyl"}]}, "mark": {"type": "text", "align": "right", "baseline": "top", "dx": -7, "dy": 3},
    "encoding": {"x": {"datum": 25, "type": "quantitative"}, "y": {"datum": 223, "type": "quantitative"}, "text": {"field": "name"}}},
   {"data": {"name": "unit"}, "mark": {"type": "text", "align": "left", "baseline": "middle", "dx": -1, "dy": -12},
    "encoding": {"x": {"datum": 15, "type": "quantitative"}, "y": {"datum": 223, "type": "quantitative"}, "text": {"field": "u"}}}
  ]
 },
 {
  "width": 329, "height": 156,
  "layer": [
   {"data": {"name": "tE2"}, "mark": {"type": "line", "color": "black", "strokeWidth": 1.1, "interpolate": "monotone"},
    "encoding": {
     "x": {"field": "t", "type": "quantitative", "scale": {"domain": [15, 25], "zero": false, "nice": false}, "axis": {"title": "Retention time (min)", "tickCount": 500, "labelOverlap": false, "values": [15,15.25,15.5,15.75,16,16.25,16.5,16.75,17,17.25,17.5,17.75,18,18.25,18.5,18.75,19,19.25,19.5,19.75,20,20.25,20.5,20.75,21,21.25,21.5,21.75,22,22.25,22.5,22.75,23,23.25,23.5,23.75,24,24.25,24.5,24.75,25], "format": ".1f", "labelExpr": "abs((datum.value-15)/2-round((datum.value-15)/2))<0.01 ? datum.label : ''", "tickSize": {"condition": {"test": "abs(datum.value-round(datum.value))<0.01", "value": 6}, "value": 3}}},
     "y": {"field": "v", "type": "quantitative", "scale": {"domain": [-24, 470], "zero": false, "nice": false}, "axis": {"title": "Relative intensity at 325 nm", "tickCount": 500, "labelOverlap": false, "format": "d", "values": [0,25,50,75,100,125,150,175,200,225,250,275,300,325,350,375,400,425,450], "labelExpr": "datum.value % 50 === 0 ? datum.label : ''", "tickSize": {"condition": {"test": "datum.value % 50 === 0", "value": 5}, "value": 3}}}
    }},
   {"data": {"name": "aE2"}, "mark": {"type": "rule", "color": "black", "strokeWidth": 0.9},
    "encoding": {"x": {"field": "x1", "type": "quantitative"}, "y": {"field": "y1", "type": "quantitative"}, "x2": {"field": "x2"}, "y2": {"field": "y2"}}},
   {"data": {"name": "aE2"}, "transform": [{"calculate": "atan2(-(datum.y2-datum.y1)*0.3158, (datum.x2-datum.x1)*32.9)*180/PI", "as": "ang"}],
    "mark": {"type": "point", "shape": "M -1 -0.45 L 0 0 L -1 0.45", "filled": false, "stroke": "black", "strokeWidth": 0.9, "size": 160, "opacity": 1},
    "encoding": {"x": {"field": "x2", "type": "quantitative"}, "y": {"field": "y2", "type": "quantitative"}, "angle": {"field": "ang", "type": "quantitative", "scale": null}}},
   {"data": {"name": "aE2"}, "mark": {"type": "text", "align": "left", "baseline": "middle", "dx": 2},
    "encoding": {"x": {"field": "x1", "type": "quantitative"}, "y": {"field": "y1", "type": "quantitative"}, "text": {"field": "lab"}}},
   {"data": {"name": "aE2"}, "transform": [{"filter": "datum.sup !== ''"}], "mark": {"type": "text", "align": "left", "baseline": "middle", "dx": 13, "dy": -4, "fontSize": 8},
    "encoding": {"x": {"field": "x1", "type": "quantitative"}, "y": {"field": "y1", "type": "quantitative"}, "text": {"field": "sup"}}},
   {"data": {"values": [{"name": "Viva C₁₈"}]}, "mark": {"type": "text", "align": "right", "baseline": "top", "dx": -7, "dy": 3},
    "encoding": {"x": {"datum": 25, "type": "quantitative"}, "y": {"datum": 470, "type": "quantitative"}, "text": {"field": "name"}}},
   {"data": {"name": "unit"}, "mark": {"type": "text", "align": "left", "baseline": "middle", "dx": -1, "dy": -12},
    "encoding": {"x": {"datum": 15, "type": "quantitative"}, "y": {"datum": 470, "type": "quantitative"}, "text": {"field": "u"}}}
  ]
 }
 ],
 "spacing": 65, "bounds": "flush",
 "title": {"text": "(e)", "orient": "bottom", "anchor": "middle", "offset": 28}
}
]
}
